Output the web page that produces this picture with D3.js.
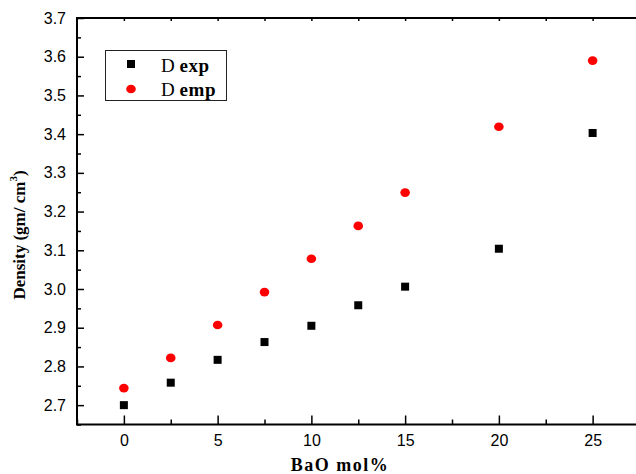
<!DOCTYPE html>
<html>
<script src="https://d3js.org/d3.v7.min.js"></script>
<style>
    body { margin: 0; background: #fff; }
    .tick text { font-family: Arial, "Liberation Sans", sans-serif; font-size: 16px; }
</style>
<body></body>
<script>
    const width = 636, height = 474;

    const bao = [0, 2.5, 5, 7.5, 10, 12.5, 15, 20, 25];
    const dExp = [2.700, 2.758, 2.817, 2.863, 2.905, 2.958, 3.006, 3.104, 3.403];
    const dEmp = [2.744, 2.822, 2.907, 2.992, 3.078, 3.163, 3.249, 3.419, 3.590];
    const xTicks = [0, 5, 10, 15, 20, 25];
    const yTicks = [2.7, 2.8, 2.9, 3.0, 3.1, 3.2, 3.3, 3.4, 3.5, 3.6, 3.7];

    const svg = d3.select("body").append("svg").attr("width", width).attr("height", height);

    const x = d3.scaleLinear().domain([-2.5, 27.5]).range([77, 639.5]);
    const y = d3.scaleLinear().domain([2.65, 3.7]).range([424.5, 18]);

    // minor ticks
    const xMinor = d3.range(-2.5, 27.6, 2.5).filter(v => !xTicks.includes(v));
    const yMinor = d3.range(2.65, 3.7, 0.1).map(v => +v.toFixed(2));

    const g = svg.append("g");
    // bottom axis (ticks inward)
    g.append("g")
        .attr("transform", `translate(0,${y(2.65)})`)
        .call(d3.axisBottom(x).tickValues(xTicks).tickSize(-9).tickPadding(10).tickFormat(d3.format("d")))
        .call(a => a.select(".domain").remove());
    g.append("g")
        .attr("transform", `translate(0,${y(2.65)})`)
        .call(d3.axisBottom(x).tickValues(xMinor).tickSize(-5).tickFormat(""))
        .call(a => a.select(".domain").remove());
    // left axis
    g.append("g")
        .attr("transform", `translate(${x(-2.5)},0)`)
        .call(d3.axisLeft(y).tickValues(yTicks).tickSize(-7).tickPadding(11).tickFormat(d3.format(".1f")))
        .call(a => a.select(".domain").remove());
    g.append("g")
        .attr("transform", `translate(${x(-2.5)},0)`)
        .call(d3.axisLeft(y).tickValues(yMinor).tickSize(-4).tickFormat(""))
        .call(a => a.select(".domain").remove());
    // top axis short ticks
    g.append("g")
        .attr("transform", `translate(0,${y(3.7)})`)
        .call(d3.axisTop(x).tickValues(d3.range(0, 27.6, 2.5)).tickSize(-3).tickFormat(""))
        .call(a => a.select(".domain").remove());
    g.selectAll(".tick line").attr("stroke-width", 1.5);

    // frame lines
    svg.append("line").attr("x1", x(-2.5)).attr("x2", width).attr("y1", y(2.65)).attr("y2", y(2.65))
        .attr("stroke", "black").attr("stroke-width", 2);
    svg.append("line").attr("x1", x(-2.5)).attr("x2", width).attr("y1", y(3.7)).attr("y2", y(3.7))
        .attr("stroke", "black").attr("stroke-width", 2);
    svg.append("line").attr("x1", x(-2.5)).attr("x2", x(-2.5)).attr("y1", y(3.7) - 1).attr("y2", y(2.65) + 1)
        .attr("stroke", "black").attr("stroke-width", 2);

    // points
    svg.selectAll(".exp").data(bao).join("rect")
        .attr("class", "exp")
        .attr("x", (d, i) => x(d) - 4).attr("y", (d, i) => y(dExp[i]) - 4)
        .attr("width", 8).attr("height", 8).attr("fill", "black");
    svg.selectAll(".emp").data(bao).join("ellipse")
        .attr("class", "emp")
        .attr("cx", (d, i) => x(d)).attr("cy", (d, i) => y(dEmp[i]))
        .attr("rx", 4.8).attr("ry", 4.3).attr("fill", "#ff0000");

    // legend
    const lg = svg.append("g");
    lg.append("rect").attr("x", 105.5).attr("y", 50.5).attr("width", 121).attr("height", 50)
        .attr("fill", "white").attr("stroke", "#222").attr("stroke-width", 1);
    lg.append("rect").attr("x", 127).attr("y", 60).attr("width", 8).attr("height", 8).attr("fill", "black");
    lg.append("ellipse").attr("cx", 131).attr("cy", 89).attr("rx", 4.8).attr("ry", 4.3).attr("fill", "#ff0000");
    const lt = lg.append("text").attr("x", 161).attr("y", 72).attr("font-family", "'Liberation Serif', serif").attr("font-size", 19);
    lt.append("tspan").text("D ");
    lt.append("tspan").attr("font-weight", "bold").attr("letter-spacing", 0.6).text("exp");
    const lt2 = lg.append("text").attr("x", 161).attr("y", 96).attr("font-family", "'Liberation Serif', serif").attr("font-size", 19);
    lt2.append("tspan").text("D ");
    lt2.append("tspan").attr("font-weight", "bold").attr("letter-spacing", 0.6).text("emp");

    // axis titles
    svg.append("text").attr("x", 340).attr("y", 471).attr("text-anchor", "middle")
        .attr("font-family", "'Liberation Serif', serif").attr("font-weight", "bold").attr("font-size", 18)
        .attr("letter-spacing", 1.5)
        .text("BaO mol%");
    const yl = svg.append("text").attr("transform", "translate(25,235) rotate(-90)").attr("text-anchor", "middle")
        .attr("font-family", "'Liberation Serif', serif").attr("font-weight", "bold").attr("font-size", 17);
    yl.append("tspan").text("Density (gm/ cm");
    yl.append("tspan").attr("font-size", 11).attr("dy", -8).text("3");
    yl.append("tspan").attr("dy", 8).text(")");
</script>
</html>
